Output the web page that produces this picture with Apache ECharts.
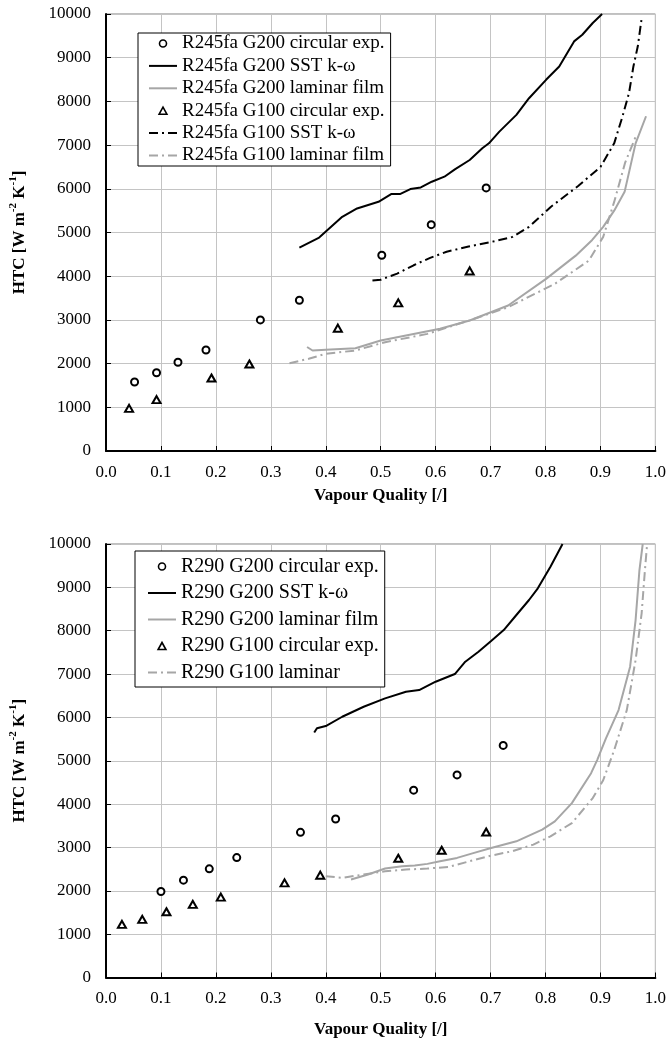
<!DOCTYPE html>
<html>
<head>
<meta charset="utf-8">
<script src="https://cdn.jsdelivr.net/npm/echarts@6/dist/echarts.min.js"></script>
<style>
  html, body { margin: 0; padding: 0; background: #fff; }
  #chart { width: 669px; height: 1042px; }
</style>
</head>
<body>
<div id="chart"></div>
<script>
// ---- Axis ticks ----
const xTicks = [0, 0.1, 0.2, 0.3, 0.4, 0.5, 0.6, 0.7, 0.8, 0.9, 1.0];
const yTicks = [0, 1000, 2000, 3000, 4000, 5000, 6000, 7000, 8000, 9000, 10000];

// ---- R245fa (upper panel): [vapour quality, HTC] ----
const r245G200Exp = [[0.052,1580],[0.092,1790],[0.131,2030],[0.182,2310],[0.281,3000],[0.352,3450],[0.502,4480],[0.592,5180],[0.692,6020]];
const r245G200Sst = [[0.352,4656],[0.388,4885],[0.430,5359],[0.457,5550],[0.496,5703],[0.519,5879],[0.535,5879],[0.554,5994],[0.573,6032],[0.593,6162],[0.616,6277],[0.635,6445],[0.662,6659],[0.685,6927],[0.697,7041],[0.716,7309],[0.747,7691],[0.770,8073],[0.801,8494],[0.825,8800],[0.852,9373],[0.867,9526],[0.886,9794],[0.903,10000]];
const r245G200Lam = [[0.366,2380],[0.376,2300],[0.400,2316],[0.454,2350],[0.500,2530],[0.546,2644],[0.608,2796],[0.662,2987],[0.732,3330],[0.801,3939],[0.855,4470],[0.885,4830],[0.905,5130],[0.925,5500],[0.944,5930],[0.964,7040],[0.983,7660]];
const r245G100Exp = [[0.042,975],[0.092,1175],[0.192,1670],[0.261,1990],[0.422,2810],[0.532,3390],[0.662,4120]];
const r245G100Sst = [[0.485,3900],[0.500,3920],[0.530,4060],[0.560,4250],[0.590,4420],[0.620,4560],[0.660,4680],[0.700,4780],[0.740,4900],[0.770,5130],[0.810,5590],[0.860,6070],[0.900,6500],[0.925,7040],[0.940,7650],[0.952,8190],[0.960,8800],[0.968,9260],[0.975,9900]];
const r245G100Lam = [[0.334,2010],[0.369,2110],[0.400,2225],[0.454,2300],[0.508,2490],[0.585,2680],[0.662,2990],[0.732,3290],[0.817,3825],[0.879,4358],[0.905,4900],[0.925,5700],[0.945,6600],[0.966,7250]];

// ---- R290 (lower panel): [vapour quality, HTC] ----
const r290G200Exp = [[0.100,1985],[0.141,2245],[0.188,2506],[0.238,2766],[0.354,3349],[0.418,3655],[0.560,4322],[0.639,4674],[0.723,5354]];
const r290G200Sst = [[0.379,5650],[0.384,5750],[0.400,5800],[0.430,6015],[0.469,6246],[0.508,6438],[0.546,6592],[0.570,6630],[0.600,6823],[0.635,7000],[0.654,7285],[0.678,7515],[0.701,7760],[0.724,8015],[0.747,8362],[0.770,8708],[0.786,8977],[0.809,9477],[0.831,10000]];
const r290G200Lam = [[0.446,2261],[0.477,2375],[0.508,2513],[0.539,2567],[0.562,2582],[0.585,2621],[0.608,2682],[0.639,2759],[0.670,2874],[0.701,2989],[0.747,3142],[0.794,3410],[0.817,3602],[0.848,4023],[0.883,4713],[0.894,5015],[0.910,5515],[0.933,6169],[0.954,7169],[0.964,8246],[0.971,9400],[0.977,10000]];
const r290G100Exp = [[0.029,1226],[0.066,1341],[0.110,1517],[0.158,1686],[0.209,1854],[0.325,2184],[0.390,2360],[0.532,2751],[0.611,2935],[0.692,3356]];
const r290G100Lam = [[0.400,2337],[0.430,2299],[0.469,2375],[0.508,2452],[0.546,2490],[0.585,2513],[0.624,2552],[0.662,2682],[0.701,2812],[0.739,2912],[0.778,3065],[0.809,3257],[0.848,3563],[0.886,4138],[0.905,4550],[0.925,5246],[0.948,6169],[0.964,7323],[0.975,8400],[0.981,9400],[0.985,10000]];

const FONT = '"Liberation Serif", "Times New Roman", serif';
const GREY = '#a6a6a6';
const DASH_DOT = [9, 4, 2, 4];
const TRIANGLE_ICON = 'path://M5,0 L10,9 L0,9 Z';

function xAxisFor(gridIndex, nameGap) {
  return {
    type: 'value', gridIndex, min: xTicks[0], max: xTicks[xTicks.length - 1], interval: 0.1,
    name: 'Vapour Quality [/]', nameLocation: 'middle', nameGap,
    nameTextStyle: { fontFamily: FONT, fontWeight: 'bold', fontSize: 17, color: '#000' },
    axisLine: { show: true, onZero: false, lineStyle: { color: '#000', width: 2 } },
    axisTick: { show: true, inside: true, length: 5, lineStyle: { color: '#000', width: 1 } },
    axisLabel: { fontFamily: FONT, fontSize: 17, color: '#000', margin: 13, formatter: v => v.toFixed(1) },
    splitLine: { show: true, lineStyle: { color: '#c4c4c4', width: 1 } }
  };
}
function yAxisFor(gridIndex) {
  return {
    type: 'value', gridIndex, min: yTicks[0], max: yTicks[yTicks.length - 1], interval: 1000,
    name: '{a|HTC [W m}{s|-2}{a| K}{s|-1}{a|]}', nameLocation: 'middle', nameGap: 78,
    nameTextStyle: {
      rich: {
        a: { fontFamily: FONT, fontWeight: 'bold', fontSize: 17, color: '#000', lineHeight: 20, verticalAlign: 'bottom' },
        s: { fontFamily: FONT, fontWeight: 'bold', fontSize: 11, color: '#000', lineHeight: 20, verticalAlign: 'top' }
      }
    },
    axisLine: { show: true, onZero: false, lineStyle: { color: '#000', width: 2 } },
    axisTick: { show: true, inside: true, length: 5, lineStyle: { color: '#000', width: 1 } },
    axisLabel: { fontFamily: FONT, fontSize: 17, color: '#000', margin: 15, formatter: v => String(v) },
    splitLine: { show: true, lineStyle: { color: '#c4c4c4', width: 1 } }
  };
}
function expSeries(name, data, symbol, idx) {
  return {
    name, type: 'scatter', data, xAxisIndex: idx, yAxisIndex: idx,
    symbol, symbolSize: symbol === 'circle' ? 7 : [8, 7],
    itemStyle: { color: '#fff', borderColor: '#000', borderWidth: 2, opacity: 1 },
    z: 5
  };
}
function lineSeries(name, data, color, type, idx) {
  return {
    name, type: 'line', data, xAxisIndex: idx, yAxisIndex: idx,
    symbol: 'none', smooth: false,
    lineStyle: { color, width: 2, type },
    itemStyle: { color },
    z: 4
  };
}
// legend entry: markers keep their own small icon, lines show only the stroke
function legendItem(name, kind) {
  if (kind === 'circle') return { name, icon: 'circle', itemStyle: { borderWidth: 1.6 } };
  if (kind === 'triangle') return { name, icon: TRIANGLE_ICON, itemStyle: { borderWidth: 1.6 } };
  return { name, itemStyle: { color: 'rgba(0,0,0,0)', borderWidth: 0 } };
}
function legendFor(items, left, top, fontSize, lineHeight, gap, padding) {
  return {
    data: items, orient: 'vertical', left, top, padding,
    backgroundColor: '#fff', borderColor: '#000', borderWidth: 1,
    itemWidth: 28, itemHeight: 7, itemGap: gap,
    textStyle: { fontFamily: FONT, fontSize, lineHeight, color: '#000' },
    selectedMode: false
  };
}

const upperNames = ['R245fa G200 circular exp.', 'R245fa G200 SST k-ω', 'R245fa G200 laminar film',
                    'R245fa G100 circular exp.', 'R245fa G100 SST k-ω', 'R245fa G100 laminar film'];
const lowerNames = ['R290 G200 circular exp.', 'R290 G200 SST k-ω', 'R290 G200 laminar film',
                    'R290 G100 circular exp.', 'R290 G100 laminar'];
const upperKinds = ['circle', 'line', 'line', 'triangle', 'line', 'line'];
const lowerKinds = ['circle', 'line', 'line', 'triangle', 'line'];

const chart = echarts.init(document.getElementById('chart'), null, { renderer: 'canvas' });
chart.setOption({
  animation: false,
  backgroundColor: '#fff',
  grid: [
    { left: 104, right: 13, top: 14, height: 437, show: true, borderColor: '#808080', borderWidth: 1, backgroundColor: 'transparent' },
    { left: 104, right: 13, top: 544, height: 433.5, show: true, borderColor: '#808080', borderWidth: 1, backgroundColor: 'transparent' }
  ],
  xAxis: [xAxisFor(0, 36), xAxisFor(1, 44)],
  yAxis: [yAxisFor(0), yAxisFor(1)],
  legend: [
    legendFor(upperNames.map((n, i) => legendItem(n, upperKinds[i])), 138, 33, 19, 20, 2.4, [0.5, 6, 0.5, 10]),
    legendFor(lowerNames.map((n, i) => legendItem(n, lowerKinds[i])), 135, 551, 20, 22, 4.5, [4.5, 6, 3.5, 12])
  ],
  series: [
    expSeries(upperNames[0], r245G200Exp, 'circle', 0),
    lineSeries(upperNames[1], r245G200Sst, '#000', 'solid', 0),
    lineSeries(upperNames[2], r245G200Lam, GREY, 'solid', 0),
    expSeries(upperNames[3], r245G100Exp, 'triangle', 0),
    lineSeries(upperNames[4], r245G100Sst, '#000', DASH_DOT, 0),
    lineSeries(upperNames[5], r245G100Lam, GREY, DASH_DOT, 0),

    expSeries(lowerNames[0], r290G200Exp, 'circle', 1),
    lineSeries(lowerNames[1], r290G200Sst, '#000', 'solid', 1),
    lineSeries(lowerNames[2], r290G200Lam, GREY, 'solid', 1),
    expSeries(lowerNames[3], r290G100Exp, 'triangle', 1),
    lineSeries(lowerNames[4], r290G100Lam, GREY, DASH_DOT, 1)
  ]
});
</script>
</body>
</html>
